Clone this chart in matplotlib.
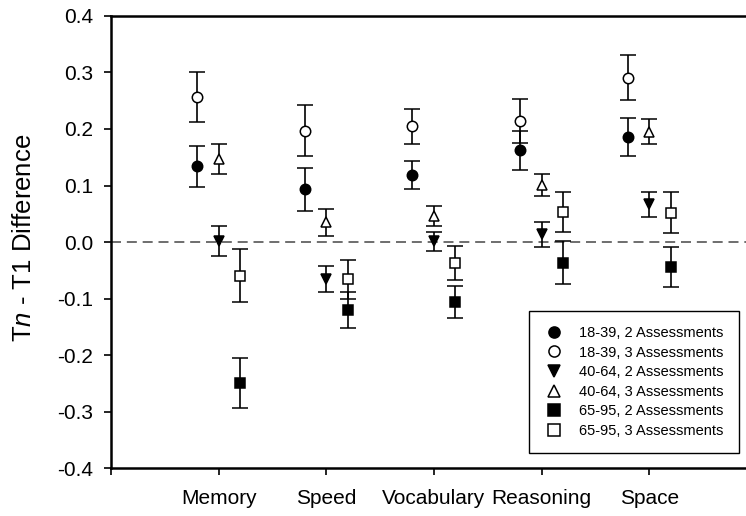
import matplotlib
matplotlib.use("Agg")
import matplotlib.pyplot as plt
from matplotlib.lines import Line2D
import numpy as np

plt.rcParams["font.family"] = ["Liberation Sans", "DejaVu Sans"]
plt.rcParams["mathtext.fontset"] = "custom"
plt.rcParams["mathtext.rm"] = "Liberation Sans"
plt.rcParams["mathtext.it"] = "Liberation Sans:italic"

DOMAINS = ["Memory", "Speed", "Vocabulary", "Reasoning", "Space"]

LABELS = [
    "18-39, 2 Assessments",
    "18-39, 3 Assessments",
    "40-64, 2 Assessments",
    "40-64, 3 Assessments",
    "65-95, 2 Assessments",
    "65-95, 3 Assessments",
]

YTICKS = [-0.4, -0.3, -0.2, -0.1, 0.0, 0.1, 0.2, 0.3, 0.4]

# mean Tn - T1 difference per domain, and half-width of the error bar
y_1839_2 = [0.134, 0.093, 0.119, 0.162, 0.186]
e_1839_2 = [0.036, 0.038, 0.025, 0.034, 0.034]
y_1839_3 = [0.256, 0.197, 0.205, 0.214, 0.291]
e_1839_3 = [0.044, 0.045, 0.031, 0.039, 0.040]
y_4064_2 = [0.002, -0.066, 0.001, 0.014, 0.067]
e_4064_2 = [0.026, 0.023, 0.017, 0.022, 0.022]
y_4064_3 = [0.147, 0.035, 0.046, 0.101, 0.195]
e_4064_3 = [0.027, 0.024, 0.018, 0.020, 0.022]
y_6595_2 = [-0.250, -0.121, -0.106, -0.037, -0.044]
e_6595_2 = [0.044, 0.032, 0.028, 0.038, 0.036]
y_6595_3 = [-0.060, -0.066, -0.037, 0.053, 0.052]
e_6595_3 = [0.047, 0.035, 0.030, 0.036, 0.036]

series = [
    (y_1839_2, e_1839_2, "o", "black", -0.2),
    (y_1839_3, e_1839_3, "o", "white", -0.2),
    (y_4064_2, e_4064_2, "v", "black", 0.0),
    (y_4064_3, e_4064_3, "^", "white", 0.0),
    (y_6595_2, e_6595_2, "s", "black", 0.2),
    (y_6595_3, e_6595_3, "s", "white", 0.2),
]

fig = plt.figure(figsize=(7.46, 5.16), dpi=100)
ax = fig.add_axes([0.1488, 0.093, 0.8512, 0.876])

ax.axhline(0, color="#555555", lw=1.2, dashes=(6, 3.5), zorder=1)

x = np.arange(1, len(DOMAINS) + 1)
handles = []
for (vals, errs, mk, fc, off), lab in zip(series, LABELS):
    ax.errorbar(x + off, vals, yerr=errs, fmt=mk, ms=7.5, mfc=fc, mec="black",
                mew=1.1, ecolor="black", elinewidth=1.2, capsize=6, capthick=1.2,
                zorder=3)
    handles.append(Line2D([], [], ls="none", marker=mk, ms=8, mfc=fc,
                          mec="black", mew=1.1, label=lab))

ax.set_xlim(0, 5.9)
ax.set_ylim(-0.4, 0.4)
ax.set_xticks(np.arange(0, 6))
ax.set_xticklabels([""] + DOMAINS)
ax.set_yticks(YTICKS)
ax.set_yticklabels([f"{v:.1f}" for v in YTICKS])

for s in ["left", "bottom", "top"]:
    ax.spines[s].set_linewidth(1.8)
ax.spines["right"].set_visible(False)
ax.tick_params(axis="both", direction="out", length=5, width=1.2, labelsize=15)
ax.tick_params(axis="y", pad=8)
ax.tick_params(axis="x", pad=10)

ax.set_ylabel("T$\\mathit{n}$ - T1 Difference", fontsize=18.5)
ax.yaxis.set_label_coords(-0.118, 0.51)

leg = fig.legend(handles=handles, loc="lower right",
                 bbox_to_anchor=(0.9906, 0.122), bbox_transform=fig.transFigure,
                 fontsize=10.5, frameon=True, fancybox=False, framealpha=1,
                 edgecolor="black", borderaxespad=0, handlelength=1.4,
                 handletextpad=1.0, labelspacing=0.38, borderpad=1.05)
leg.get_frame().set_linewidth(1.0)

fig.savefig("out.png", dpi=100)
